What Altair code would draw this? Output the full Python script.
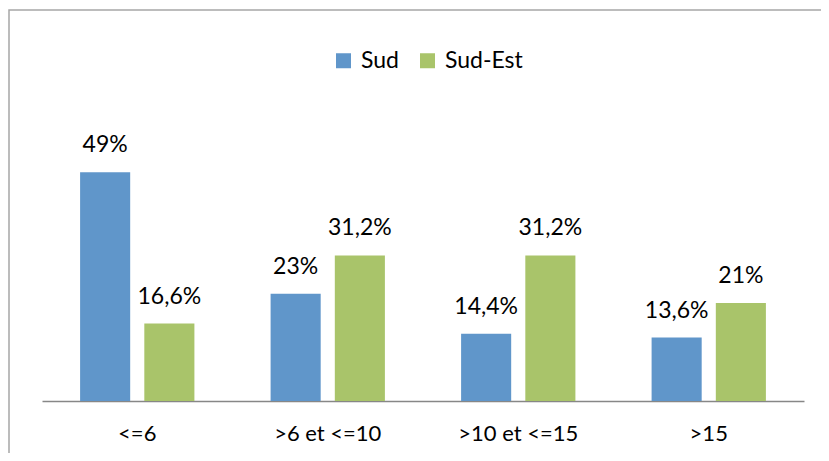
import altair as alt
import pandas as pd

categories = ["<=6", ">6 et <=10", ">10 et <=15", ">15"]
series = ["Sud", "Sud-Est"]
sud = [49, 23, 14.4, 13.6]
sud_est = [16.6, 31.2, 31.2, 21]
sud_labels = ["49%", "23%", "14,4%", "13,6%"]
sud_est_labels = ["16,6%", "31,2%", "31,2%", "21%"]
colors = ["#6096CA", "#A9C46A"]

rows = []
for c, v, l in zip(categories, sud, sud_labels):
    rows.append({"cat": c, "serie": "Sud", "val": v, "lab": l})
for c, v, l in zip(categories, sud_est, sud_est_labels):
    rows.append({"cat": c, "serie": "Sud-Est", "val": v, "lab": l})
df = pd.DataFrame(rows)

FONT = "Lato"

x = alt.X("cat:N", sort=categories, title=None,
          scale=alt.Scale(paddingInner=0.4, paddingOuter=0.2),
          axis=alt.Axis(labelAngle=0, ticks=False, domainColor="#878787",
                        domainWidth=1.3, labelFont=FONT, labelFontSize=22,
                        labelColor="#000000", labelPadding=22))
xo = alt.XOffset("serie:N", sort=series,
                 scale=alt.Scale(paddingInner=0.22, paddingOuter=0))
y = alt.Y("val:Q", scale=alt.Scale(domain=[0, 60]), axis=None)

bars = alt.Chart(df).mark_bar().encode(
    x=x, xOffset=xo, y=y,
    color=alt.Color("serie:N", sort=series,
                    scale=alt.Scale(domain=series, range=colors),
                    legend=alt.Legend(title=None, orient="none", direction="horizontal",
                                      legendX=290, legendY=-72,
                                      symbolType="square", symbolSize=225,
                                      symbolStrokeWidth=0, labelFont=FONT,
                                      labelFontSize=23, labelColor="#000000",
                                      labelOffset=6, columnPadding=17)),
)

text = alt.Chart(df).mark_text(baseline="alphabetic", dy=-20, font=FONT,
                               fontSize=23, color="#000000").encode(
    x=x, xOffset=xo, y=y, text="lab:N")

frame = alt.Chart(pd.DataFrame({"a": [0]})).mark_rect(
    fill=None, stroke="#A6A6A6", strokeWidth=1.5).encode(
    x=alt.value(-33), x2=alt.value(900), y=alt.value(-111), y2=alt.value(500))

chart = alt.layer(frame, bars, text).properties(
    width=762, height=280,
    padding={"left": 34, "top": 113, "right": 17, "bottom": 52},
    autosize=alt.AutoSizeParams(type="none"),
).configure_view(stroke=None)

chart.save("out.html", embed_options={"renderer": "svg", "actions": False})
